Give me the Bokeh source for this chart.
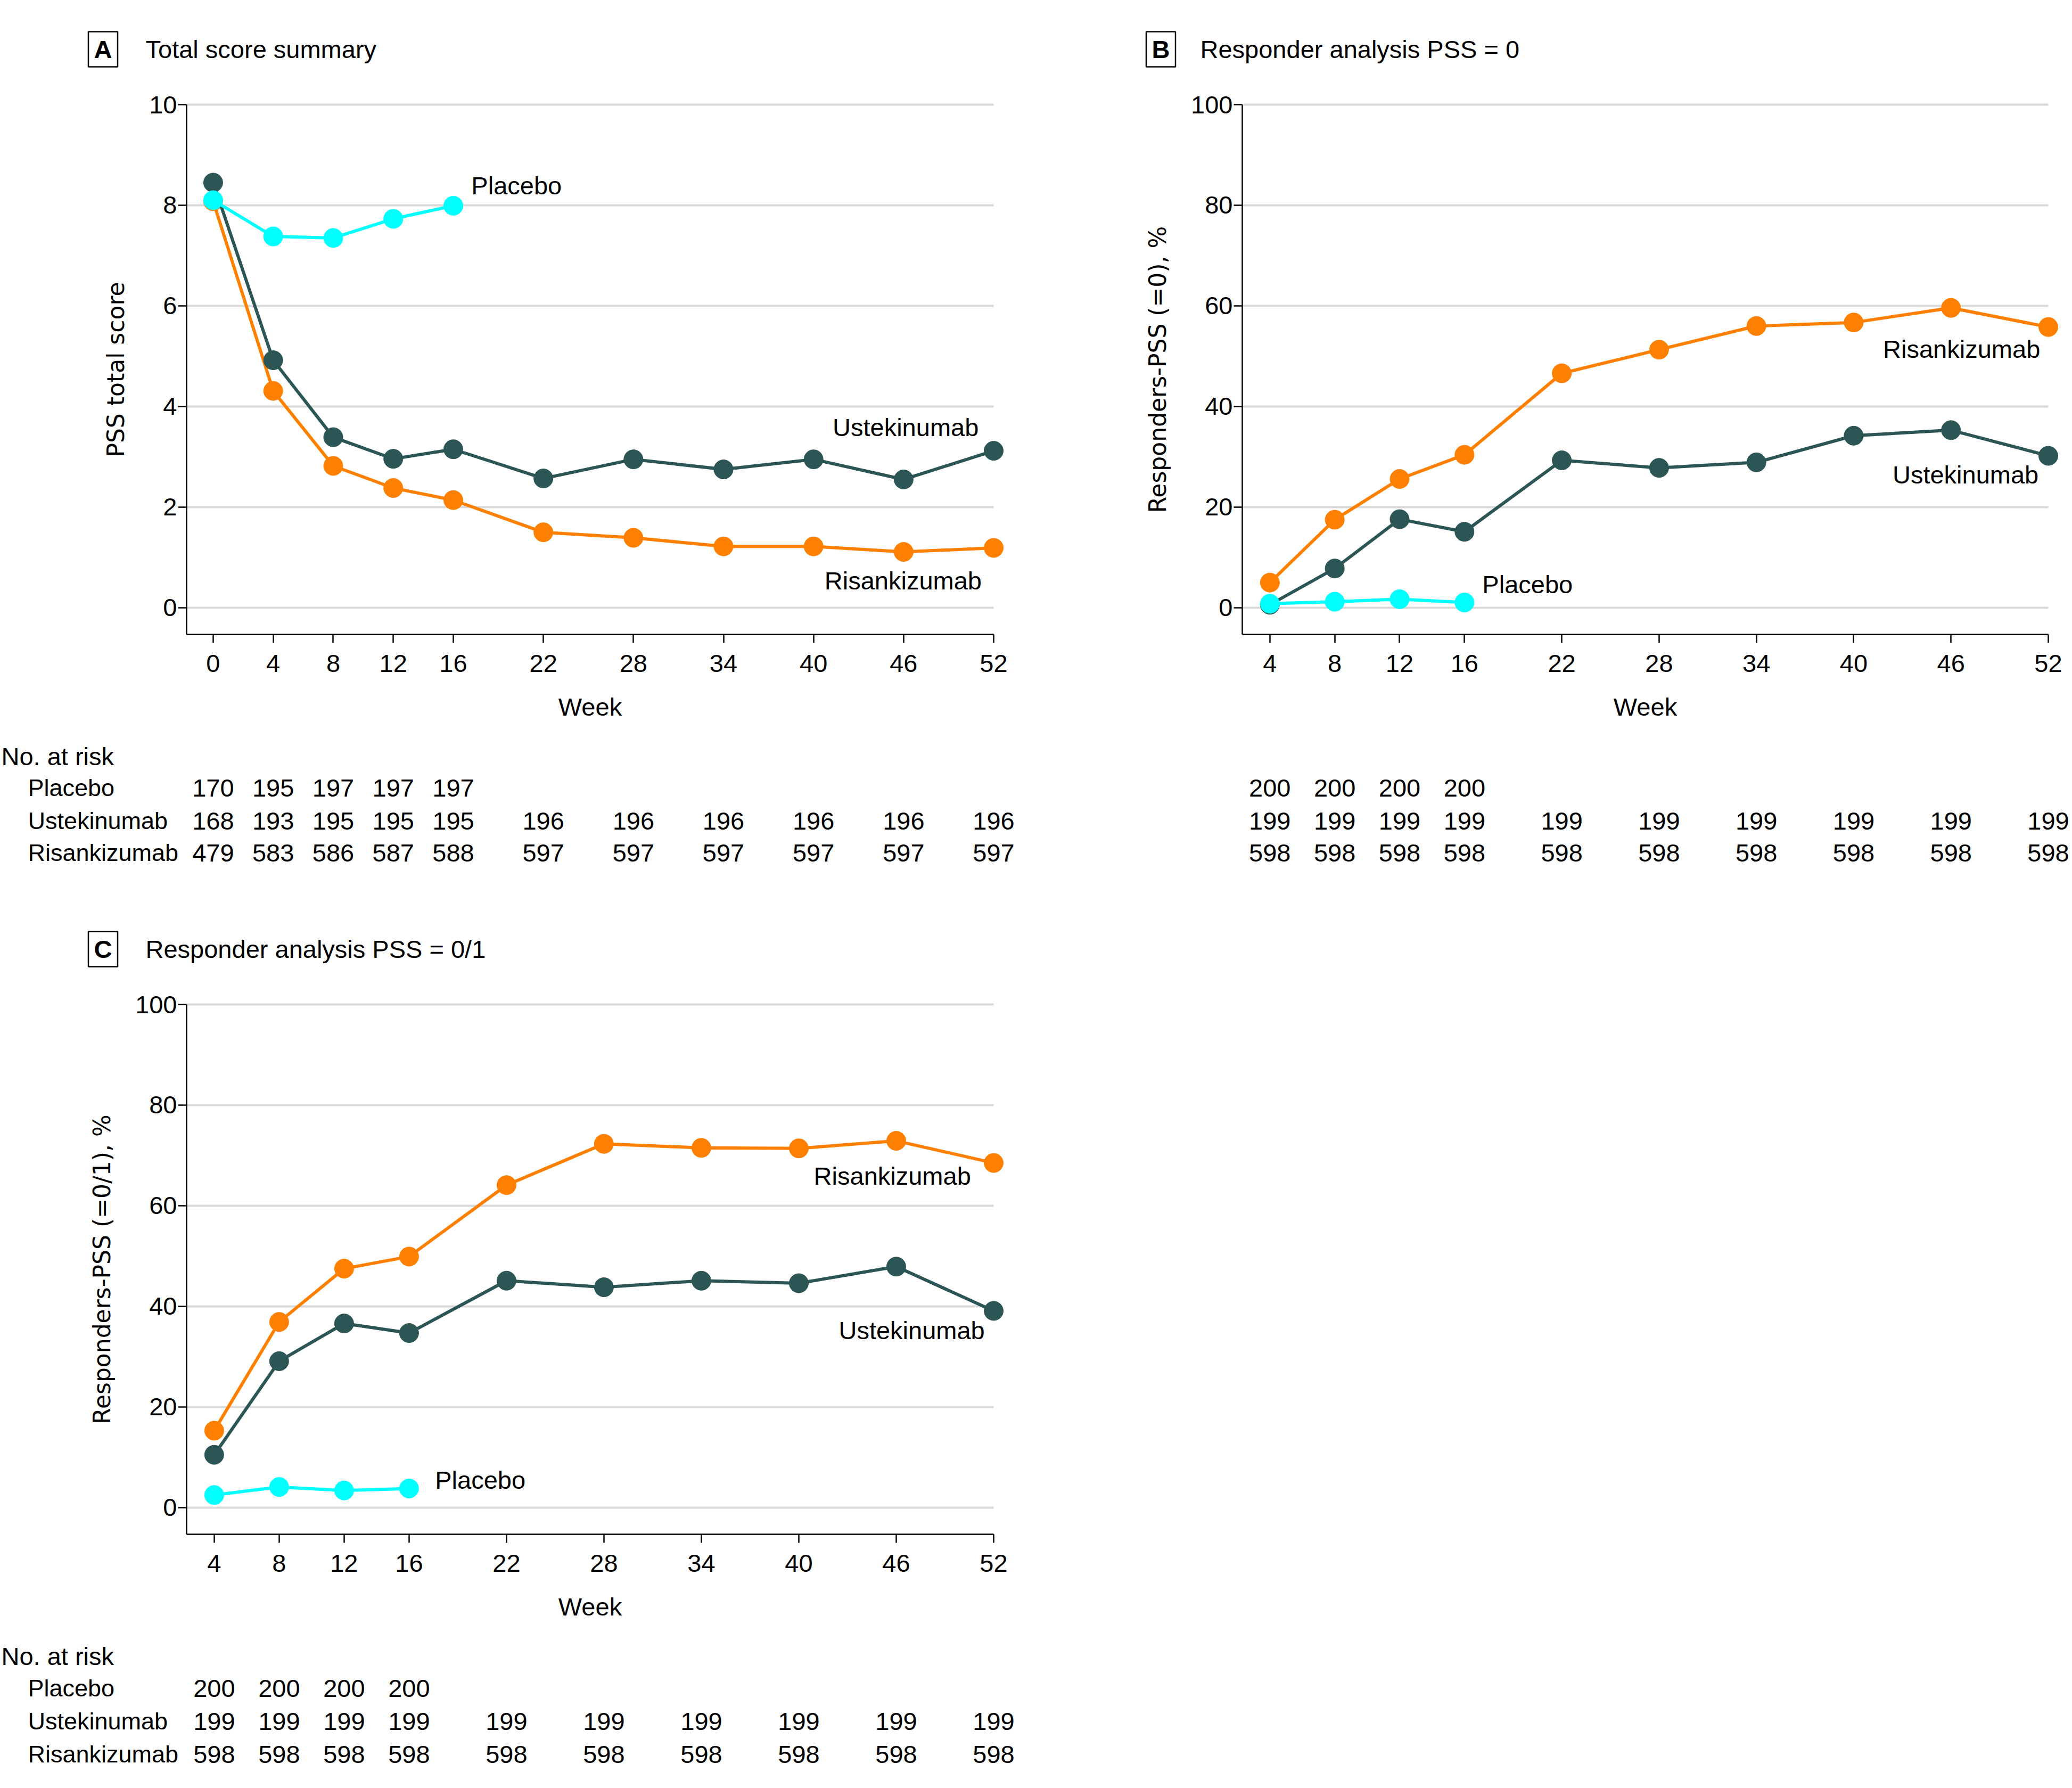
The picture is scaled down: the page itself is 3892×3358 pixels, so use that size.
from bokeh.plotting import figure
from bokeh.models import FixedTicker, Range1d
from bokeh.layouts import column, row
from bokeh.embed import file_html
from bokeh.resources import INLINE
from bokeh.core.properties import value

# ---------------- data ----------------
weeks_a = [0, 4, 8, 12, 16, 22, 28, 34, 40, 46, 52]
weeks_a_pbo = [0, 4, 8, 12, 16]
weeks_bc = [4, 8, 12, 16, 22, 28, 34, 40, 46, 52]
weeks_bc_pbo = [4, 8, 12, 16]

a_placebo = [8.10, 7.38, 7.35, 7.73, 7.99]
a_ustekinumab = [8.45, 4.92, 3.39, 2.96, 3.15, 2.57, 2.95, 2.75, 2.95, 2.55, 3.12]
a_risankizumab = [8.08, 4.31, 2.82, 2.38, 2.14, 1.50, 1.39, 1.22, 1.22, 1.11, 1.19]

b_placebo = [0.8, 1.2, 1.7, 1.05]
b_ustekinumab = [0.6, 7.8, 17.6, 15.1, 29.3, 27.8, 28.9, 34.2, 35.3, 30.2]
b_risankizumab = [5.0, 17.5, 25.6, 30.4, 46.6, 51.3, 56.0, 56.7, 59.6, 55.8]

c_placebo = [2.5, 4.1, 3.4, 3.8]
c_ustekinumab = [10.5, 29.1, 36.6, 34.7, 45.1, 43.8, 45.1, 44.6, 47.9, 39.1]
c_risankizumab = [15.3, 36.9, 47.5, 49.9, 64.1, 72.3, 71.5, 71.4, 72.9, 68.5]

risk_a_placebo = [170, 195, 197, 197, 197]
risk_a_ustekinumab = [168, 193, 195, 195, 195, 196, 196, 196, 196, 196, 196]
risk_a_risankizumab = [479, 583, 586, 587, 588, 597, 597, 597, 597, 597, 597]
risk_bc_placebo = [200, 200, 200, 200]
risk_bc_ustekinumab = [199, 199, 199, 199, 199, 199, 199, 199, 199, 199]
risk_bc_risankizumab = [598, 598, 598, 598, 598, 598, 598, 598, 598, 598]

arm_names = ["Placebo", "Ustekinumab", "Risankizumab"]
yticks_a = [0, 2, 4, 6, 8, 10]
yticks_bc = [0, 20, 40, 60, 80, 100]

# ---------------- style ----------------
FONT = "Liberation Sans"
YFONT = "DejaVu Sans"
FS = "47px"
FS_NAME = "45px"
C_PBO = "#00FFFF"
C_UST = "#2C5555"
C_RIS = "#FF8000"
GRID = "#D9D9D9"


def panel(letter, title, ylabel, xr, yr, xticks, yticks, series, risk, notes, geo, names):
    W, H = geo["W"], geo["H"]
    fl, fw, ft, fh = geo["fl"], geo["fw"], geo["ft"], geo["fh"]
    px = (xr[1] - xr[0]) / fw
    py = (yr[1] - yr[0]) / fh

    def dx(X):  # pixel column inside this figure -> week
        return xr[0] + (X - fl) * px

    def dy(Y):  # pixel row inside this figure -> value
        return yr[1] - (Y - ft) * py

    p = figure(width=W, height=H, min_border=0,
               x_range=Range1d(dx(0), dx(W)), y_range=Range1d(dy(H), dy(0)),
               output_backend="svg", toolbar_location=None,
               outline_line_color=None)
    p.xgrid.visible = False
    p.ygrid.visible = False

    # axes placed at the chart's corner, limited to the chart area
    xa, ya = p.xaxis[0], p.yaxis[0]
    xa.fixed_location = yr[0]
    xa.bounds = (xr[0], xr[1])
    ya.fixed_location = xr[0]
    ya.bounds = (yr[0], yr[1])
    xa.ticker = FixedTicker(ticks=xticks)
    ya.ticker = FixedTicker(ticks=yticks)
    for ax in (xa, ya):
        ax.minor_tick_line_color = None
        ax.major_tick_in = 0
        ax.major_tick_out = 16
        ax.major_tick_line_width = 2.5
        ax.axis_line_width = 2.5
        ax.axis_line_color = "black"
        ax.major_tick_line_color = "black"
        ax.major_label_text_font = FONT
        ax.major_label_text_font_size = FS
        ax.major_label_text_color = "black"
    xa.major_label_standoff = 22
    ya.major_label_standoff = 2
    xa.axis_label = "Week"
    xa.axis_label_text_font = FONT
    xa.axis_label_text_font_size = FS
    xa.axis_label_text_font_style = "normal"
    xa.axis_label_text_color = "black"
    xa.axis_label_standoff = 36
    ya.axis_label = ylabel
    ya.axis_label_text_font = YFONT
    ya.axis_label_text_font_size = "44px"
    ya.axis_label_text_font_style = "normal"
    ya.axis_label_text_color = "black"
    ya.axis_label_standoff = 34

    # horizontal reference lines at the y ticks
    n = len(yticks)
    p.segment(x0=[xr[0]] * n, y0=yticks, x1=[xr[1]] * n, y1=yticks,
              line_color=GRID, line_width=4)

    for xs, ys, col in series:
        p.line(xs, ys, line_color=col, line_width=6)
        p.scatter(xs, ys, size=36, fill_color=col, line_color=col)

    for txt, x, y, align in notes:
        p.text(x=[x], y=[y], text=[txt], text_align=align, text_baseline="middle",
               text_font=value(FONT), text_font_size=FS, text_color="black")

    # ---- heading ----
    ty = dy(geo["ty"])
    p.rect(x=[dx(geo["box"])], y=[ty], width=55, height=66, width_units="screen",
           height_units="screen", fill_color=None, line_color="black", line_width=2.5)
    p.text(x=[dx(geo["box"])], y=[ty], text=[letter], text_align="center",
           text_baseline="middle", text_font=value(FONT), text_font_size=FS,
           text_font_style="bold", text_color="black")
    p.text(x=[dx(geo["tx"])], y=[ty], text=[title], text_align="left",
           text_baseline="middle", text_font=value(FONT), text_font_size=FS,
           text_color="black")

    # ---- number at risk table ----
    rows_y = [dy(r) for r in geo["rows"]]
    if names:
        p.text(x=[dx(2)], y=[rows_y[0]], text=["No. at risk"], text_align="left",
               text_baseline="middle", text_font=value(FONT), text_font_size=FS,
               text_color="black")
        p.text(x=[dx(52)] * 3, y=rows_y[1:], text=arm_names, text_align="left",
               text_baseline="middle", text_font=value(FONT), text_font_size=FS_NAME,
               text_color="black")
    for k, (wks, vals) in enumerate(risk):
        p.text(x=wks, y=[rows_y[k + 1]] * len(wks), text=[str(v) for v in vals],
               text_align="center", text_baseline="middle", text_font=value(FONT),
               text_font_size=FS, text_color="black")
    return p


geo_a = dict(W=1950, H=1708, fl=350, fw=1516, ft=196, fh=995, ty=92, box=193, tx=273,
             rows=[1420, 1479, 1541, 1601])
geo_b = dict(W=1942, H=1708, fl=383, fw=1514, ft=196, fh=995, ty=92, box=230, tx=304,
             rows=[1420, 1479, 1541, 1601])
geo_c = dict(W=1950, H=1650, fl=350, fw=1516, ft=178, fh=995, ty=74, box=193, tx=273,
             rows=[1402, 1462, 1524, 1586])

pa = panel("A", "Total score summary", "PSS total score", (-1.77, 52), (-0.53, 10),
           weeks_a, yticks_a,
           [(weeks_a, a_risankizumab, C_RIS), (weeks_a, a_ustekinumab, C_UST),
            (weeks_a_pbo, a_placebo, C_PBO)],
           [(weeks_a_pbo, risk_a_placebo), (weeks_a, risk_a_ustekinumab),
            (weeks_a, risk_a_risankizumab)],
           [("Placebo", 17.2, 8.39, "left"), ("Ustekinumab", 51.0, 3.59, "right"),
            ("Risankizumab", 51.2, 0.54, "right")],
           geo_a, True)

pb = panel("B", "Responder analysis PSS = 0", "Responders-PSS (=0), %", (2.3, 52), (-5.3, 100),
           weeks_bc, yticks_bc,
           [(weeks_bc, b_risankizumab, C_RIS), (weeks_bc, b_ustekinumab, C_UST),
            (weeks_bc_pbo, b_placebo, C_PBO)],
           [(weeks_bc_pbo, risk_bc_placebo), (weeks_bc, risk_bc_ustekinumab),
            (weeks_bc, risk_bc_risankizumab)],
           [("Placebo", 17.1, 4.7, "left"), ("Ustekinumab", 51.4, 26.5, "right"),
            ("Risankizumab", 51.5, 51.4, "right")],
           geo_b, False)

pc = panel("C", "Responder analysis PSS = 0/1", "Responders-PSS (=0/1), %", (2.3, 52), (-5.3, 100),
           weeks_bc, yticks_bc,
           [(weeks_bc, c_risankizumab, C_RIS), (weeks_bc, c_ustekinumab, C_UST),
            (weeks_bc_pbo, c_placebo, C_PBO)],
           [(weeks_bc_pbo, risk_bc_placebo), (weeks_bc, risk_bc_ustekinumab),
            (weeks_bc, risk_bc_risankizumab)],
           [("Placebo", 17.6, 5.5, "left"), ("Ustekinumab", 51.45, 35.2, "right"),
            ("Risankizumab", 50.6, 65.9, "right")],
           geo_c, True)

layout = column(row(pa, pb), pc)
open("out.html", "w").write(file_html(layout, INLINE))
